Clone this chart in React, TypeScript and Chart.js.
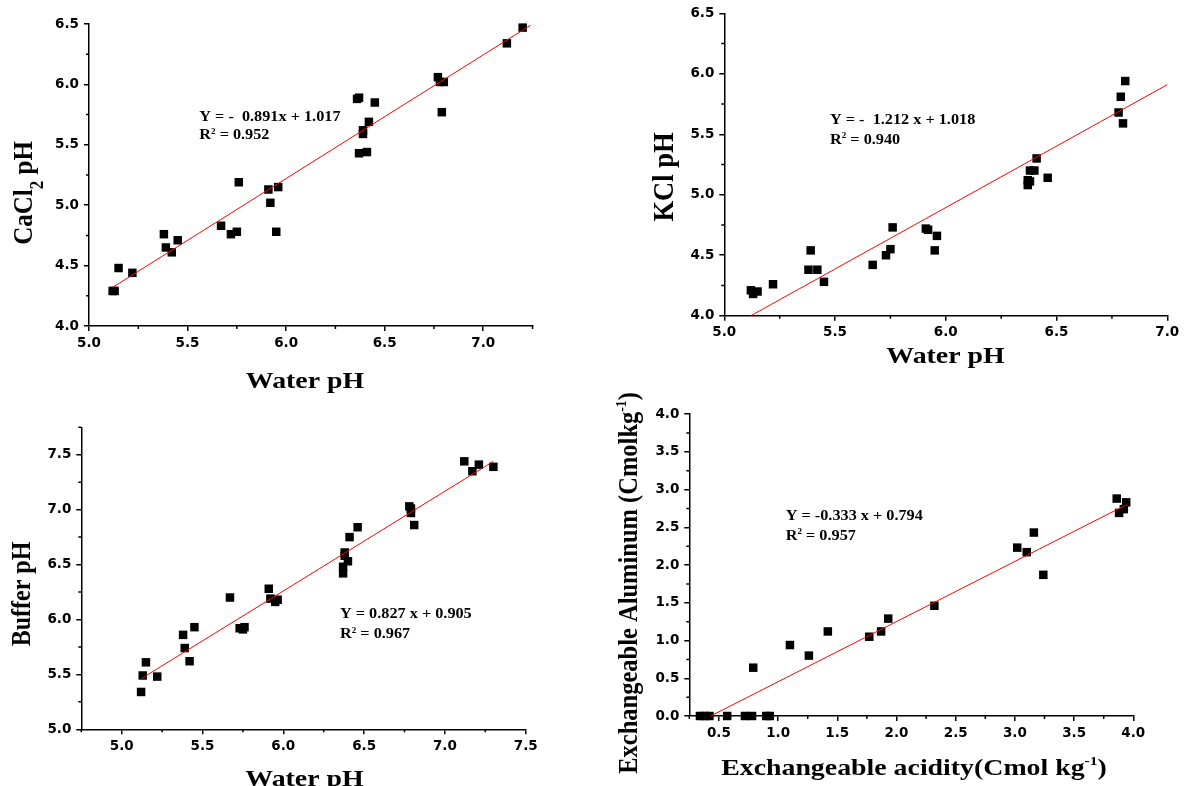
import React, { useEffect, useRef } from 'react';
import { Chart, registerables } from 'chart.js';

Chart.register(...registerables);

const W = 1185;
const H = 786;

// ---------- Panel 1: CaCl2 pH vs Water pH ----------
const p1Water = [5.12, 5.13, 5.15, 5.22, 5.38, 5.39, 5.42, 5.45, 5.67, 5.72, 5.75, 5.76, 5.91, 5.92, 5.96, 5.95, 6.36, 6.37, 6.45, 6.42, 6.39, 6.39, 6.37, 6.41, 6.77, 6.78, 6.80, 6.79, 7.12, 7.20];
const p1CaCl2 = [4.29, 4.29, 4.48, 4.44, 4.76, 4.65, 4.61, 4.71, 4.83, 4.76, 4.78, 5.19, 5.13, 5.02, 5.15, 4.78, 5.88, 5.89, 5.85, 5.69, 5.62, 5.59, 5.43, 5.44, 6.06, 6.02, 6.02, 5.77, 6.34, 6.47];
const p1FitX = [5.12, 7.24];
const p1FitY = [4.32, 6.49];
const p1XMajor = [5.0, 5.5, 6.0, 6.5, 7.0];
const p1XMinor = [5.25, 5.75, 6.25, 6.75, 7.25];
const p1YMajor = [4.0, 4.5, 5.0, 5.5, 6.0, 6.5];
const p1YMinor = [4.25, 4.75, 5.25, 5.75, 6.25];

// ---------- Panel 2: KCl pH vs Water pH ----------
const p2Water = [5.12, 5.13, 5.15, 5.22, 5.38, 5.39, 5.42, 5.45, 5.67, 5.73, 5.75, 5.76, 5.91, 5.92, 5.96, 5.95, 6.37, 6.37, 6.38, 6.38, 6.40, 6.41, 6.46, 6.78, 6.79, 6.81, 6.80];
const p2KCl = [4.21, 4.18, 4.20, 4.26, 4.38, 4.54, 4.38, 4.28, 4.42, 4.50, 4.55, 4.73, 4.72, 4.71, 4.66, 4.54, 5.08, 5.12, 5.11, 5.20, 5.20, 5.30, 5.14, 5.68, 5.81, 5.94, 5.59];
const p2FitX = [5.12, 7.0];
const p2FitY = [4.0, 5.91];
const p2XMajor = [5.0, 5.5, 6.0, 6.5, 7.0];
const p2XMinor = [5.25, 5.75, 6.25, 6.75];
const p2YMajor = [4.0, 4.5, 5.0, 5.5, 6.0, 6.5];
const p2YMinor = [4.25, 4.75, 5.25, 5.75, 6.25];

// ---------- Panel 3: Buffer pH vs Water pH ----------
const p3Water = [5.12, 5.13, 5.15, 5.22, 5.38, 5.39, 5.42, 5.45, 5.67, 5.73, 5.75, 5.76, 5.91, 5.92, 5.95, 5.965, 6.37, 6.37, 6.38, 6.38, 6.40, 6.41, 6.46, 6.78, 6.79, 6.79, 6.81, 7.12, 7.17, 7.21, 7.30];
const p3Buffer = [5.34, 5.49, 5.61, 5.48, 5.86, 5.74, 5.62, 5.93, 6.20, 5.92, 5.91, 5.93, 6.28, 6.19, 6.16, 6.18, 6.42, 6.48, 6.61, 6.58, 6.53, 6.75, 6.84, 7.03, 7.01, 6.97, 6.86, 7.44, 7.35, 7.41, 7.39];
const p3FitX = [5.12, 7.30];
const p3FitY = [5.46, 7.44];
const p3XMajor = [5.0, 5.5, 6.0, 6.5, 7.0, 7.5];
const p3XMinor = [4.75, 5.25, 5.75, 6.25, 6.75, 7.25];
const p3YMajor = [5.0, 5.5, 6.0, 6.5, 7.0, 7.5];
const p3YMinor = [5.25, 5.75, 6.25, 6.75, 7.25, 7.75];

// ---------- Panel 4: Exchangeable Al vs Exchangeable acidity ----------
const p4Acidity = [0.34, 0.38, 0.42, 0.57, 0.72, 0.78, 0.90, 0.93, 0.79, 1.10, 1.26, 1.42, 1.77, 1.87, 1.93, 2.32, 3.02, 3.10, 3.16, 3.24, 3.86, 3.94, 3.88, 3.92];
const p4Aluminum = [0, 0, 0, 0, 0, 0, 0, 0, 0.64, 0.94, 0.80, 1.12, 1.05, 1.12, 1.29, 1.46, 2.23, 2.17, 2.43, 1.87, 2.88, 2.83, 2.69, 2.74];
const p4FitX = [0.43, 3.945];
const p4FitY = [0, 2.80];
const p4XMajor = [0.5, 1.0, 1.5, 2.0, 2.5, 3.0, 3.5, 4.0];
const p4XMinor = [0.25, 0.75, 1.25, 1.75, 2.25, 2.75, 3.25, 3.75];
const p4YMajor = [0.0, 0.5, 1.0, 1.5, 2.0, 2.5, 3.0, 3.5, 4.0];
const p4YMinor = [0.25, 0.75, 1.25, 1.75, 2.25, 2.75, 3.25, 3.75];

// ---------- text ----------
type Seg = { t: string; v?: 'sup' | 'sub' };
type TextItem = { segs: Seg[]; x: number; y: number; size: number; align: 'left' | 'center'; rotated?: boolean };

const SERIF = '"Liberation Serif", "Times New Roman", serif';
const TICK_FONT = { family: '"DejaVu Sans", "Liberation Sans", sans-serif', weight: 'bold' as const, size: 13.5 };

type Panel = {
  xs: number[]; ys: number[]; fx: number[]; fy: number[];
  xMin: number; xMax: number; yMin: number; yMax: number;
  xMajor: number[]; xMinor: number[]; yMajor: number[]; yMinor: number[];
  area: { l: number; t: number; r: number; b: number };
  texts: TextItem[];
};

const panels: Panel[] = [
  {
    xs: p1Water, ys: p1CaCl2, fx: p1FitX, fy: p1FitY,
    xMin: 5.0, xMax: 7.25, yMin: 4.0, yMax: 6.5,
    xMajor: p1XMajor, xMinor: p1XMinor, yMajor: p1YMajor, yMinor: p1YMinor,
    area: { l: 89, t: 24, r: 532.5, b: 326 },
    texts: [
      { segs: [{ t: 'Y = -  0.891x + 1.017' }], x: 199.3, y: 120.7, size: 14, align: 'left' },
      { segs: [{ t: 'R' }, { t: '2', v: 'sup' }, { t: ' = 0.952' }], x: 199.3, y: 139.3, size: 14, align: 'left' },
      { segs: [{ t: 'Water pH' }], x: 305, y: 388, size: 24, align: 'center' },
      { segs: [{ t: 'CaCl' }, { t: '2', v: 'sub' }, { t: ' pH' }], x: 31.7, y: 193, size: 25, align: 'center', rotated: true },
    ],
  },
  {
    xs: p2Water, ys: p2KCl, fx: p2FitX, fy: p2FitY,
    xMin: 5.0, xMax: 7.0, yMin: 4.0, yMax: 6.5,
    xMajor: p2XMajor, xMinor: p2XMinor, yMajor: p2YMajor, yMinor: p2YMinor,
    area: { l: 724.3, t: 13.3, r: 1167.3, b: 315.7 },
    texts: [
      { segs: [{ t: 'Y = -  1.212 x + 1.018' }], x: 830, y: 124, size: 14, align: 'left' },
      { segs: [{ t: 'R' }, { t: '2', v: 'sup' }, { t: ' = 0.940' }], x: 830, y: 144, size: 14, align: 'left' },
      { segs: [{ t: 'Water pH' }], x: 945.5, y: 363.3, size: 24, align: 'center' },
      { segs: [{ t: 'KCl pH' }], x: 672.7, y: 177, size: 26.5, align: 'center', rotated: true },
    ],
  },
  {
    xs: p3Water, ys: p3Buffer, fx: p3FitX, fy: p3FitY,
    xMin: 4.75, xMax: 7.5, yMin: 5.0, yMax: 7.75,
    xMajor: p3XMajor, xMinor: p3XMinor, yMajor: p3YMajor, yMinor: p3YMinor,
    area: { l: 81.3, t: 427.3, r: 525.7, b: 729.3 },
    texts: [
      { segs: [{ t: 'Y = 0.827 x + 0.905' }], x: 340, y: 618.3, size: 14, align: 'left' },
      { segs: [{ t: 'R' }, { t: '2', v: 'sup' }, { t: ' = 0.967' }], x: 340, y: 638.3, size: 14, align: 'left' },
      { segs: [{ t: 'Water pH' }], x: 304.5, y: 785.7, size: 24, align: 'center' },
      { segs: [{ t: 'Buffer pH' }], x: 30, y: 594, size: 24, align: 'center', rotated: true },
    ],
  },
  {
    xs: p4Acidity, ys: p4Aluminum, fx: p4FitX, fy: p4FitY,
    xMin: 0.25, xMax: 4.0, yMin: 0.0, yMax: 4.0,
    xMajor: p4XMajor, xMinor: p4XMinor, yMajor: p4YMajor, yMinor: p4YMinor,
    area: { l: 689.3, t: 414, r: 1133.3, b: 716 },
    texts: [
      { segs: [{ t: 'Y = -0.333 x + 0.794' }], x: 785.7, y: 520, size: 14, align: 'left' },
      { segs: [{ t: 'R' }, { t: '2', v: 'sup' }, { t: ' = 0.957' }], x: 785.7, y: 540, size: 14, align: 'left' },
      { segs: [{ t: 'Exchangeable acidity(Cmol kg' }, { t: '-1', v: 'sup' }, { t: ')' }], x: 914, y: 775, size: 24, align: 'center' },
      { segs: [{ t: 'Exchangeable Aluminum (Cmolkg' }, { t: '-1', v: 'sup' }, { t: ')' }], x: 637, y: 583, size: 24.5, align: 'center', rotated: true },
    ],
  },
];

const SX_H = 1.16;
const SX_R = 1.1;

function segSize(s: Seg, size: number) {
  if (s.v === 'sub') return size * 0.68;
  if (s.v === 'sup') return size * 0.56;
  return size;
}

function drawRich(ctx: CanvasRenderingContext2D, it: TextItem) {
  ctx.save();
  ctx.translate(it.x, it.y);
  if (it.rotated) {
    ctx.rotate(-Math.PI / 2);
    ctx.scale(1, SX_R);
  } else {
    ctx.scale(SX_H, 1);
  }
  ctx.fillStyle = '#000';
  ctx.textAlign = 'left';
  ctx.textBaseline = 'alphabetic';
  const widths = it.segs.map((s) => {
    ctx.font = `bold ${segSize(s, it.size)}px ${SERIF}`;
    return ctx.measureText(s.t).width;
  });
  const total = widths.reduce((a, b) => a + b, 0);
  let cx = it.align === 'center' ? -total / 2 : 0;
  it.segs.forEach((s, i) => {
    ctx.font = `bold ${segSize(s, it.size)}px ${SERIF}`;
    let dy = 0;
    if (s.v === 'sup') dy = -it.size * 0.4;
    if (s.v === 'sub') dy = it.size * 0.42;
    ctx.fillText(s.t, cx, dy);
    cx += widths[i];
  });
  ctx.restore();
}

const YW = 80;
const XH = 40;

function PanelChart({ p }: { p: Panel }) {
  const ref = useRef<HTMLCanvasElement | null>(null);
  useEffect(() => {
    if (!ref.current) return;
    const pts = p.xs.map((x, i) => ({ x, y: p.ys[i] }));
    const fit = p.fx.map((x, i) => ({ x, y: p.fy[i] }));
    const overlay = {
      id: 'overlay',
      afterDraw(chart: any) {
        const ctx: CanvasRenderingContext2D = chart.ctx;
        const ca = chart.chartArea;
        const xs = chart.scales.x;
        const ys = chart.scales.y;
        ctx.save();
        ctx.strokeStyle = '#000';
        ctx.lineWidth = 1.5;
        ctx.beginPath();
        p.xMinor.forEach((v) => {
          const px = xs.getPixelForValue(v);
          ctx.moveTo(px, ca.bottom);
          ctx.lineTo(px, ca.bottom + 3);
        });
        p.yMinor.forEach((v) => {
          const py = ys.getPixelForValue(v);
          ctx.moveTo(ca.left, py);
          ctx.lineTo(ca.left - 3, py);
        });
        ctx.stroke();
        ctx.restore();
        p.texts.forEach((t) => drawRich(ctx, t));
      },
    };
    const axisCommon = (major: number[]) => ({
      type: 'linear' as const,
      afterBuildTicks: (s: any) => {
        s.ticks = major.map((v) => ({ value: v }));
      },
      ticks: {
        callback: (v: any) => Number(v).toFixed(1),
        font: TICK_FONT,
        color: '#000',
        autoSkip: false,
        maxRotation: 0,
      },
      grid: { display: true, drawOnChartArea: false, drawTicks: true, tickLength: 5, color: '#000', lineWidth: 1.5 },
      border: { display: true, color: '#000', width: 1.5 },
    });
    const xAxis: any = axisCommon(p.xMajor);
    xAxis.min = p.xMin;
    xAxis.max = p.xMax;
    xAxis.ticks.padding = 4;
    xAxis.afterFit = (s: any) => { s.height = XH; };
    const yAxis: any = axisCommon(p.yMajor);
    yAxis.min = p.yMin;
    yAxis.max = p.yMax;
    yAxis.ticks.padding = 5;
    yAxis.afterFit = (s: any) => { s.width = YW; };

    const chart = new Chart(ref.current, {
      type: 'scatter',
      data: {
        datasets: [
          {
            data: fit,
            showLine: true,
            borderColor: '#ff0000',
            borderWidth: 1,
            pointRadius: 0,
            fill: false,
            clip: false as any,
          },
          {
            data: pts,
            pointStyle: 'rect',
            pointRadius: 6,
            backgroundColor: '#000',
            borderWidth: 0,
            clip: false as any,
          },
        ],
      },
      options: {
        responsive: false,
        animation: false,
        events: [],
        layout: {
          padding: {
            left: p.area.l - YW,
            top: p.area.t,
            right: W - p.area.r,
            bottom: H - p.area.b - XH,
          },
        },
        plugins: { legend: { display: false }, tooltip: { enabled: false } },
        scales: { x: xAxis, y: yAxis },
      },
      plugins: [overlay],
    });
    return () => chart.destroy();
  }, [p]);
  return (
    <canvas
      ref={ref}
      width={W}
      height={H}
      style={{ position: 'absolute', left: 0, top: 0, width: W, height: H }}
    />
  );
}

export default function App() {
  return (
    <div style={{ position: 'absolute', left: 0, top: 0, width: W, height: H, background: '#fff', overflow: 'hidden' }}>
      {panels.map((p, i) => (
        <PanelChart key={i} p={p} />
      ))}
    </div>
  );
}
